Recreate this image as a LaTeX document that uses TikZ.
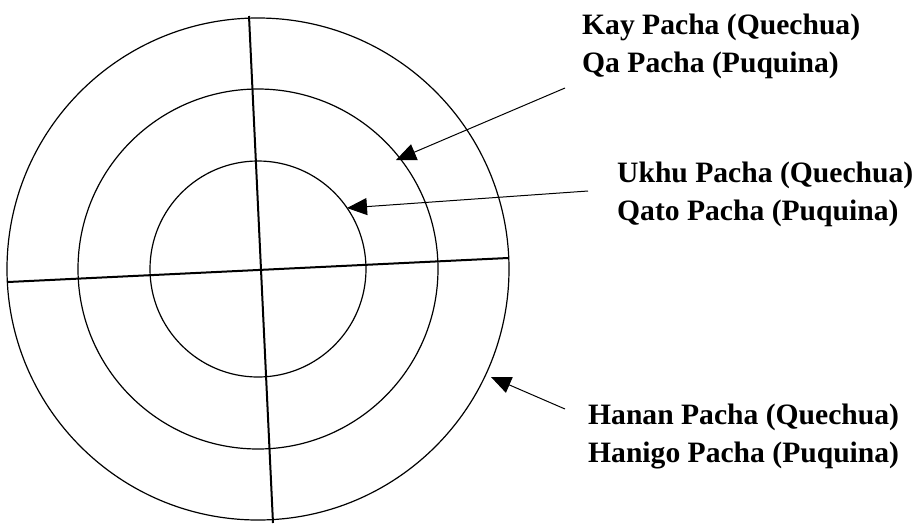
\documentclass[tikz,border=0pt]{standalone}
\usepackage{fontspec}
\setmainfont{Liberation Serif}
\usetikzlibrary{arrows.meta}

\begin{document}
\begin{tikzpicture}[x=1pt,y=-1pt,
  ring/.style={line width=1.2pt},
  cross/.style={line width=2pt},
  pachalabel/.style={font=\fontsize{29.6}{38}\selectfont\bfseries, align=left, anchor=base west, inner sep=0pt},
  pointer/.style={line width=1pt, -{Triangle[length=20pt,width=17pt]}}]
\useasboundingbox (0,0) rectangle (916,523);
\coordinate (o) at (258,269);
% the three worlds
\draw[ring] (o) circle[radius=251pt];
\draw[ring] (o) circle[radius=180pt];
\draw[ring] (o) circle[radius=108pt];
% the cross
\coordinate (n) at (249,16);
\coordinate (s) at (273,523);
\coordinate (w) at (8,282);
\coordinate (e) at (508,258);
\draw[cross] (n) -- (s);
\draw[cross] (w) -- (e);
% labels (base = last line)
\node[pachalabel] (kay) at (582,72) {Kay Pacha (Quechua)\\Qa Pacha (Puquina)};
\node[pachalabel] (ukhu) at (617,220) {Ukhu Pacha (Quechua)\\Qato Pacha (Puquina)};
\node[pachalabel] (hanan) at (588,462) {Hanan Pacha (Quechua)\\Hanigo Pacha (Puquina)};
% pointers
\coordinate (kay-from) at (565,88);
\coordinate (kay-to) at (396,160);
\coordinate (ukhu-from) at (588,191);
\coordinate (ukhu-to) at (347,208);
\coordinate (hanan-from) at (565,409);
\coordinate (hanan-to) at (491,377);
\draw[pointer] (kay-from) -- (kay-to);
\draw[pointer] (ukhu-from) -- (ukhu-to);
\draw[pointer] (hanan-from) -- (hanan-to);
\end{tikzpicture}
\end{document}
